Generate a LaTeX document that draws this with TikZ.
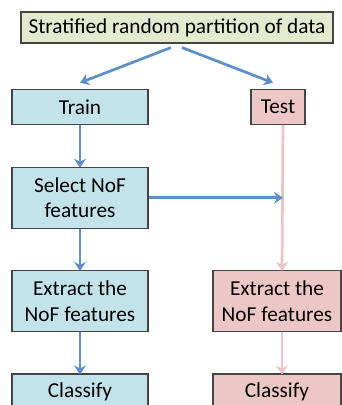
\documentclass[tikz,border=0pt]{standalone}
\usepackage{fontspec}
\setmainfont{Carlito}
\usetikzlibrary{arrows.meta}
\definecolor{topfill}{HTML}{E3EACF}
\definecolor{trainfill}{HTML}{C3E3EA}
\definecolor{testfill}{HTML}{EDC6C6}
\definecolor{boxline}{HTML}{454545}
\definecolor{flowblue}{HTML}{5E8FC8}
\definecolor{flowpink}{HTML}{EDC3C3}
\begin{document}
\begin{tikzpicture}[x=1pt,y=-1pt,
  box/.style={draw=boxline,line width=1.1pt,inner sep=0pt,align=center,
    font=\fontsize{21.3}{25.5}\selectfont},
  trainbox/.style={box,fill=trainfill,minimum width=136pt},
  testbox/.style={box,fill=testfill},
  flow/.style={draw=flowblue,line width=2.7pt,
    -{Stealth[length=9pt,width=12pt,inset=3pt]}},
  pinkflow/.style={draw=flowpink,line width=2.7pt,
    -{Stealth[length=9pt,width=12pt,inset=3pt]}}]
\useasboundingbox (0,0) rectangle (342,405);
\clip (0,0) rectangle (342,405);
\fill[white] (0,0) rectangle (342,405);

% boxes
\node[box,fill=topfill,minimum width=312pt,minimum height=31pt] (top) at (177,27.5)
  {Stratified random partition of data};
\node[trainbox,minimum height=35pt] (train) at (80,106.8) {Train};
\node[testbox,minimum width=54pt,minimum height=35pt] (test) at (278,106.8) {Test};
\node[trainbox,minimum height=61pt] (sel) at (80,197.8) {Select NoF\\features};
\node[trainbox,minimum height=61pt] (ext1) at (80,301) {Extract the\\NoF features};
\node[testbox,minimum width=128pt,minimum height=61pt] (ext2) at (277,301) {Extract the\\NoF features};
\node[trainbox,minimum height=36pt] (cls1) at (80,392) {Classify};
\node[testbox,minimum width=128pt,minimum height=36pt] (cls2) at (277,392) {Classify};

% test branch line
\coordinate (tl) at ([xshift=5pt]test.south);
\coordinate (tr) at ([xshift=5pt]ext2.north);
\coordinate (tc) at ([xshift=5pt]ext2.south);
\draw[pinkflow] (tl) -- ([yshift=-1pt]tr);
\draw[pinkflow] (tc) -- ([yshift=-1pt]cls2.north -| tc);

% partition arrows
\draw[flow] ([shift={(-6,4)}]top.south) -- ([shift={(0,-6)}]train.north);
\draw[flow] ([shift={(5,4)}]top.south) -- ([shift={(-5,-6)}]test.north);

% train branch
\draw[flow] (train.south) -- ([yshift=-1pt]sel.north);
\draw[flow] (sel.east) -- (sel.east -| tl);
\draw[flow] (sel.south) -- ([yshift=-1pt]ext1.north);
\draw[flow] (ext1.south) -- ([yshift=-1pt]cls1.north);
\end{tikzpicture}
\end{document}
